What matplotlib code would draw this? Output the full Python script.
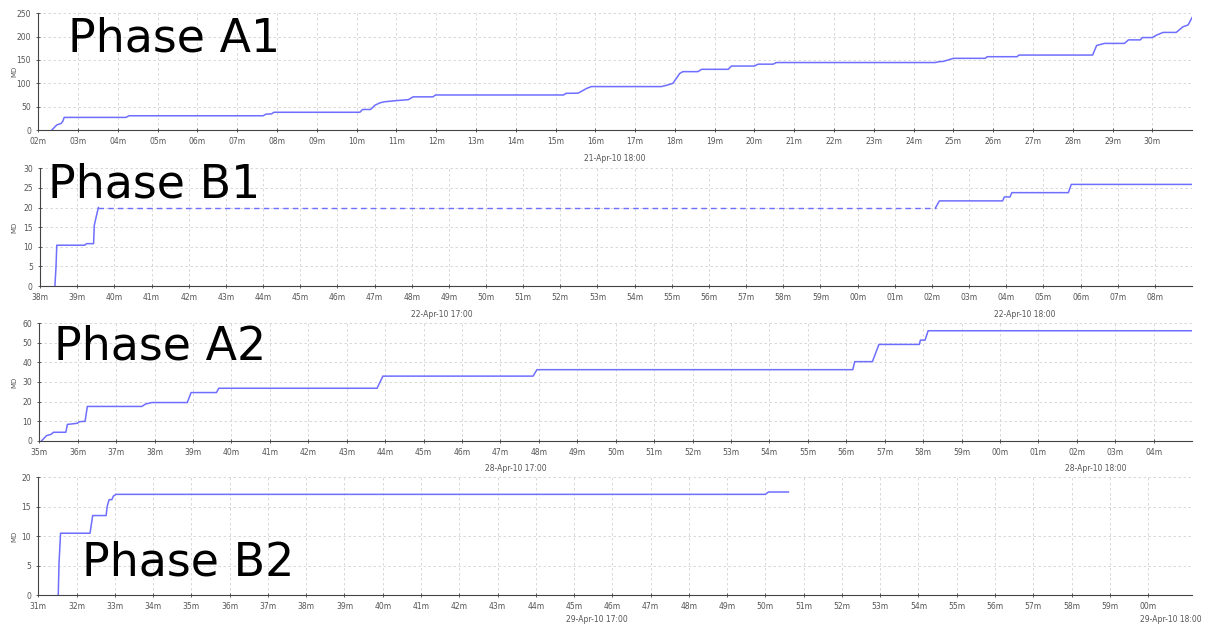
import matplotlib.pyplot as plt
from matplotlib.transforms import blended_transform_factory

# time in minutes past the hour (values past 60 run into the next hour), MD = cumulative man-days
a1_t = [2.34, 2.46, 2.57, 2.61, 2.65, 4.2, 4.28, 7.65, 7.72, 7.86, 7.92, 10.08, 10.15, 10.35,
        10.46, 10.58, 10.7, 11.0, 11.3, 11.42, 11.92, 11.98, 15.2, 15.26, 15.57, 15.78, 15.9,
        17.66, 17.8, 17.95, 18.12, 18.2, 18.58, 18.67, 19.34, 19.42, 20.0, 20.09, 20.47, 20.55,
        24.55, 24.62, 24.75, 25.0, 25.8, 25.85, 26.6, 26.65, 28.5, 28.6, 28.8, 29.3, 29.4,
        29.7, 29.75, 30.0, 30.1, 30.27, 30.6, 30.77, 30.9, 31.0]
a1_md = [0, 10.7, 14, 18, 27, 27, 30.5, 30.5, 34, 34.5, 38, 38, 44, 44,
         53, 58, 60.5, 63, 65, 71, 71, 75, 75, 78.5, 79, 89, 93,
         93, 96, 100, 121, 125, 125, 130, 130, 137, 137, 141, 141, 144.5,
         144.5, 146, 147, 153.5, 153.5, 157, 157, 160.5, 160.5, 181, 185.5, 185.5, 193,
         193, 198, 198, 203, 209, 209, 221, 225, 241]

b1_t = [38.4, 38.43, 38.45, 39.2, 39.25, 39.44, 39.46, 39.51, 39.57]
b1_md = [0, 5, 10.4, 10.4, 10.8, 10.8, 15.5, 17.6, 20]
b1_gap_t = [39.57, 62.1]
b1_gap_md = [20, 20]
b1_t2 = [62.1, 62.2, 63.9, 63.95, 64.1, 64.15, 65.67, 65.75, 69.0]
b1_md2 = [20, 21.7, 21.7, 22.7, 22.7, 23.8, 23.8, 25.9, 25.9]

a2_t = [35.06, 35.19, 35.3, 35.37, 35.69, 35.73, 35.99, 36.04, 36.19, 36.25, 37.67, 37.76,
        37.93, 38.85, 38.95, 39.61, 39.67, 43.79, 43.94, 47.85, 47.95, 56.17, 56.22, 56.68,
        56.75, 56.85, 57.9, 57.93, 58.05, 58.13, 65.0]
a2_md = [0, 2.6, 3.2, 4.3, 4.3, 8.3, 8.9, 9.7, 9.9, 17.5, 17.5, 18.7,
         19.5, 19.5, 24.6, 24.6, 26.8, 26.8, 33.0, 33.0, 36.3, 36.3, 40.4, 40.4,
         44, 49.2, 49.2, 51.4, 51.4, 56.2, 56.2]

b2_t = [31.52, 31.54, 31.58, 32.35, 32.42, 32.77, 32.8, 32.85, 32.92, 32.96, 33.03, 50.0, 50.08, 50.6]
b2_md = [0, 5.4, 10.5, 10.5, 13.5, 13.5, 15.1, 16.2, 16.2, 16.8, 17.1, 17.1, 17.5, 17.5]

line_col = '#6e6eff'
grid_col = '#d2d2d2'
txt_col = '#555555'


def setup(ax, x0, x1, first_tick, last_tick, ymax, ystep, dates):
    ax.set_xlim(x0, x1)
    ax.set_ylim(0, ymax)
    ticks = list(range(first_tick, last_tick + 1))
    ax.set_xticks(ticks)
    ax.set_xticklabels(['%02dm' % (m % 60) for m in ticks])
    ax.set_yticks(list(range(0, ymax + 1, ystep)))
    ax.grid(True, color=grid_col, linestyle=(0, (3, 3)), linewidth=0.6)
    ax.set_axisbelow(True)
    for s in ['top', 'right']:
        ax.spines[s].set_visible(False)
    for s in ['left', 'bottom']:
        ax.spines[s].set_color('#444444')
        ax.spines[s].set_linewidth(0.8)
    ax.tick_params(axis='both', labelsize=5.5, labelcolor=txt_col, color='#444444',
                   length=2.5, width=0.6, direction='inout', pad=4)
    tr = blended_transform_factory(ax.transData, ax.transAxes)
    for x, y, s in dates:
        ax.text(x, y, s, transform=tr, ha='center', va='center', fontsize=5.5, color=txt_col)


fig = plt.figure(figsize=(12.1, 6.29), dpi=100)

ax1 = fig.add_axes([0.0317, 0.7933, 0.9535, 0.1856])
ax1.plot(a1_t, a1_md, color=line_col, lw=1.1)
setup(ax1, 2, 31, 2, 30, 250, 50, [(16.5, -0.24, '21-Apr-10 18:00')])

ax2 = fig.add_axes([0.0331, 0.5453, 0.9521, 0.1871])
ax2.plot(b1_t, b1_md, color=line_col, lw=1.1)
ax2.plot(b1_gap_t, b1_gap_md, color=line_col, lw=1.0, linestyle=(0, (4, 3)))
ax2.plot(b1_t2, b1_md2, color=line_col, lw=1.1)
setup(ax2, 38, 69, 38, 68, 30, 5, [(48.8, -0.245, '22-Apr-10 17:00'),
                                   (64.5, -0.245, '22-Apr-10 18:00')])

ax3 = fig.add_axes([0.0325, 0.2994, 0.9527, 0.1866])
ax3.plot(a2_t, a2_md, color=line_col, lw=1.1)
setup(ax3, 35, 65, 35, 64, 60, 10, [(47.4, -0.24, '28-Apr-10 17:00'),
                                    (62.5, -0.24, '28-Apr-10 18:00')])

ax4 = fig.add_axes([0.0317, 0.054, 0.9535, 0.1872])
ax4.plot(b2_t, b2_md, color=line_col, lw=1.1)
setup(ax4, 31, 61.15, 31, 60, 20, 5, [(45.6, -0.21, '29-Apr-10 17:00'),
                                      (60.6, -0.21, '29-Apr-10 18:00')])

# y axis captions
for ax in [ax1, ax2, ax3, ax4]:
    pos = ax.get_position()
    fig.text(14 / 1210, (pos.y0 + pos.y1) / 2, 'MD', rotation=90, ha='center', va='center',
             fontsize=5, color=txt_col)

# big phase names
fig.text(68 / 1210, 1 - 52 / 629, 'Phase A1', fontsize=33, va='baseline')
fig.text(48 / 1210, 1 - 197 / 629, 'Phase B1', fontsize=33, va='baseline')
fig.text(54 / 1210, 1 - 359 / 629, 'Phase A2', fontsize=33, va='baseline')
fig.text(82 / 1210, 1 - 576 / 629, 'Phase B2', fontsize=33, va='baseline')

fig.savefig('out.png', dpi=100, facecolor='white')
